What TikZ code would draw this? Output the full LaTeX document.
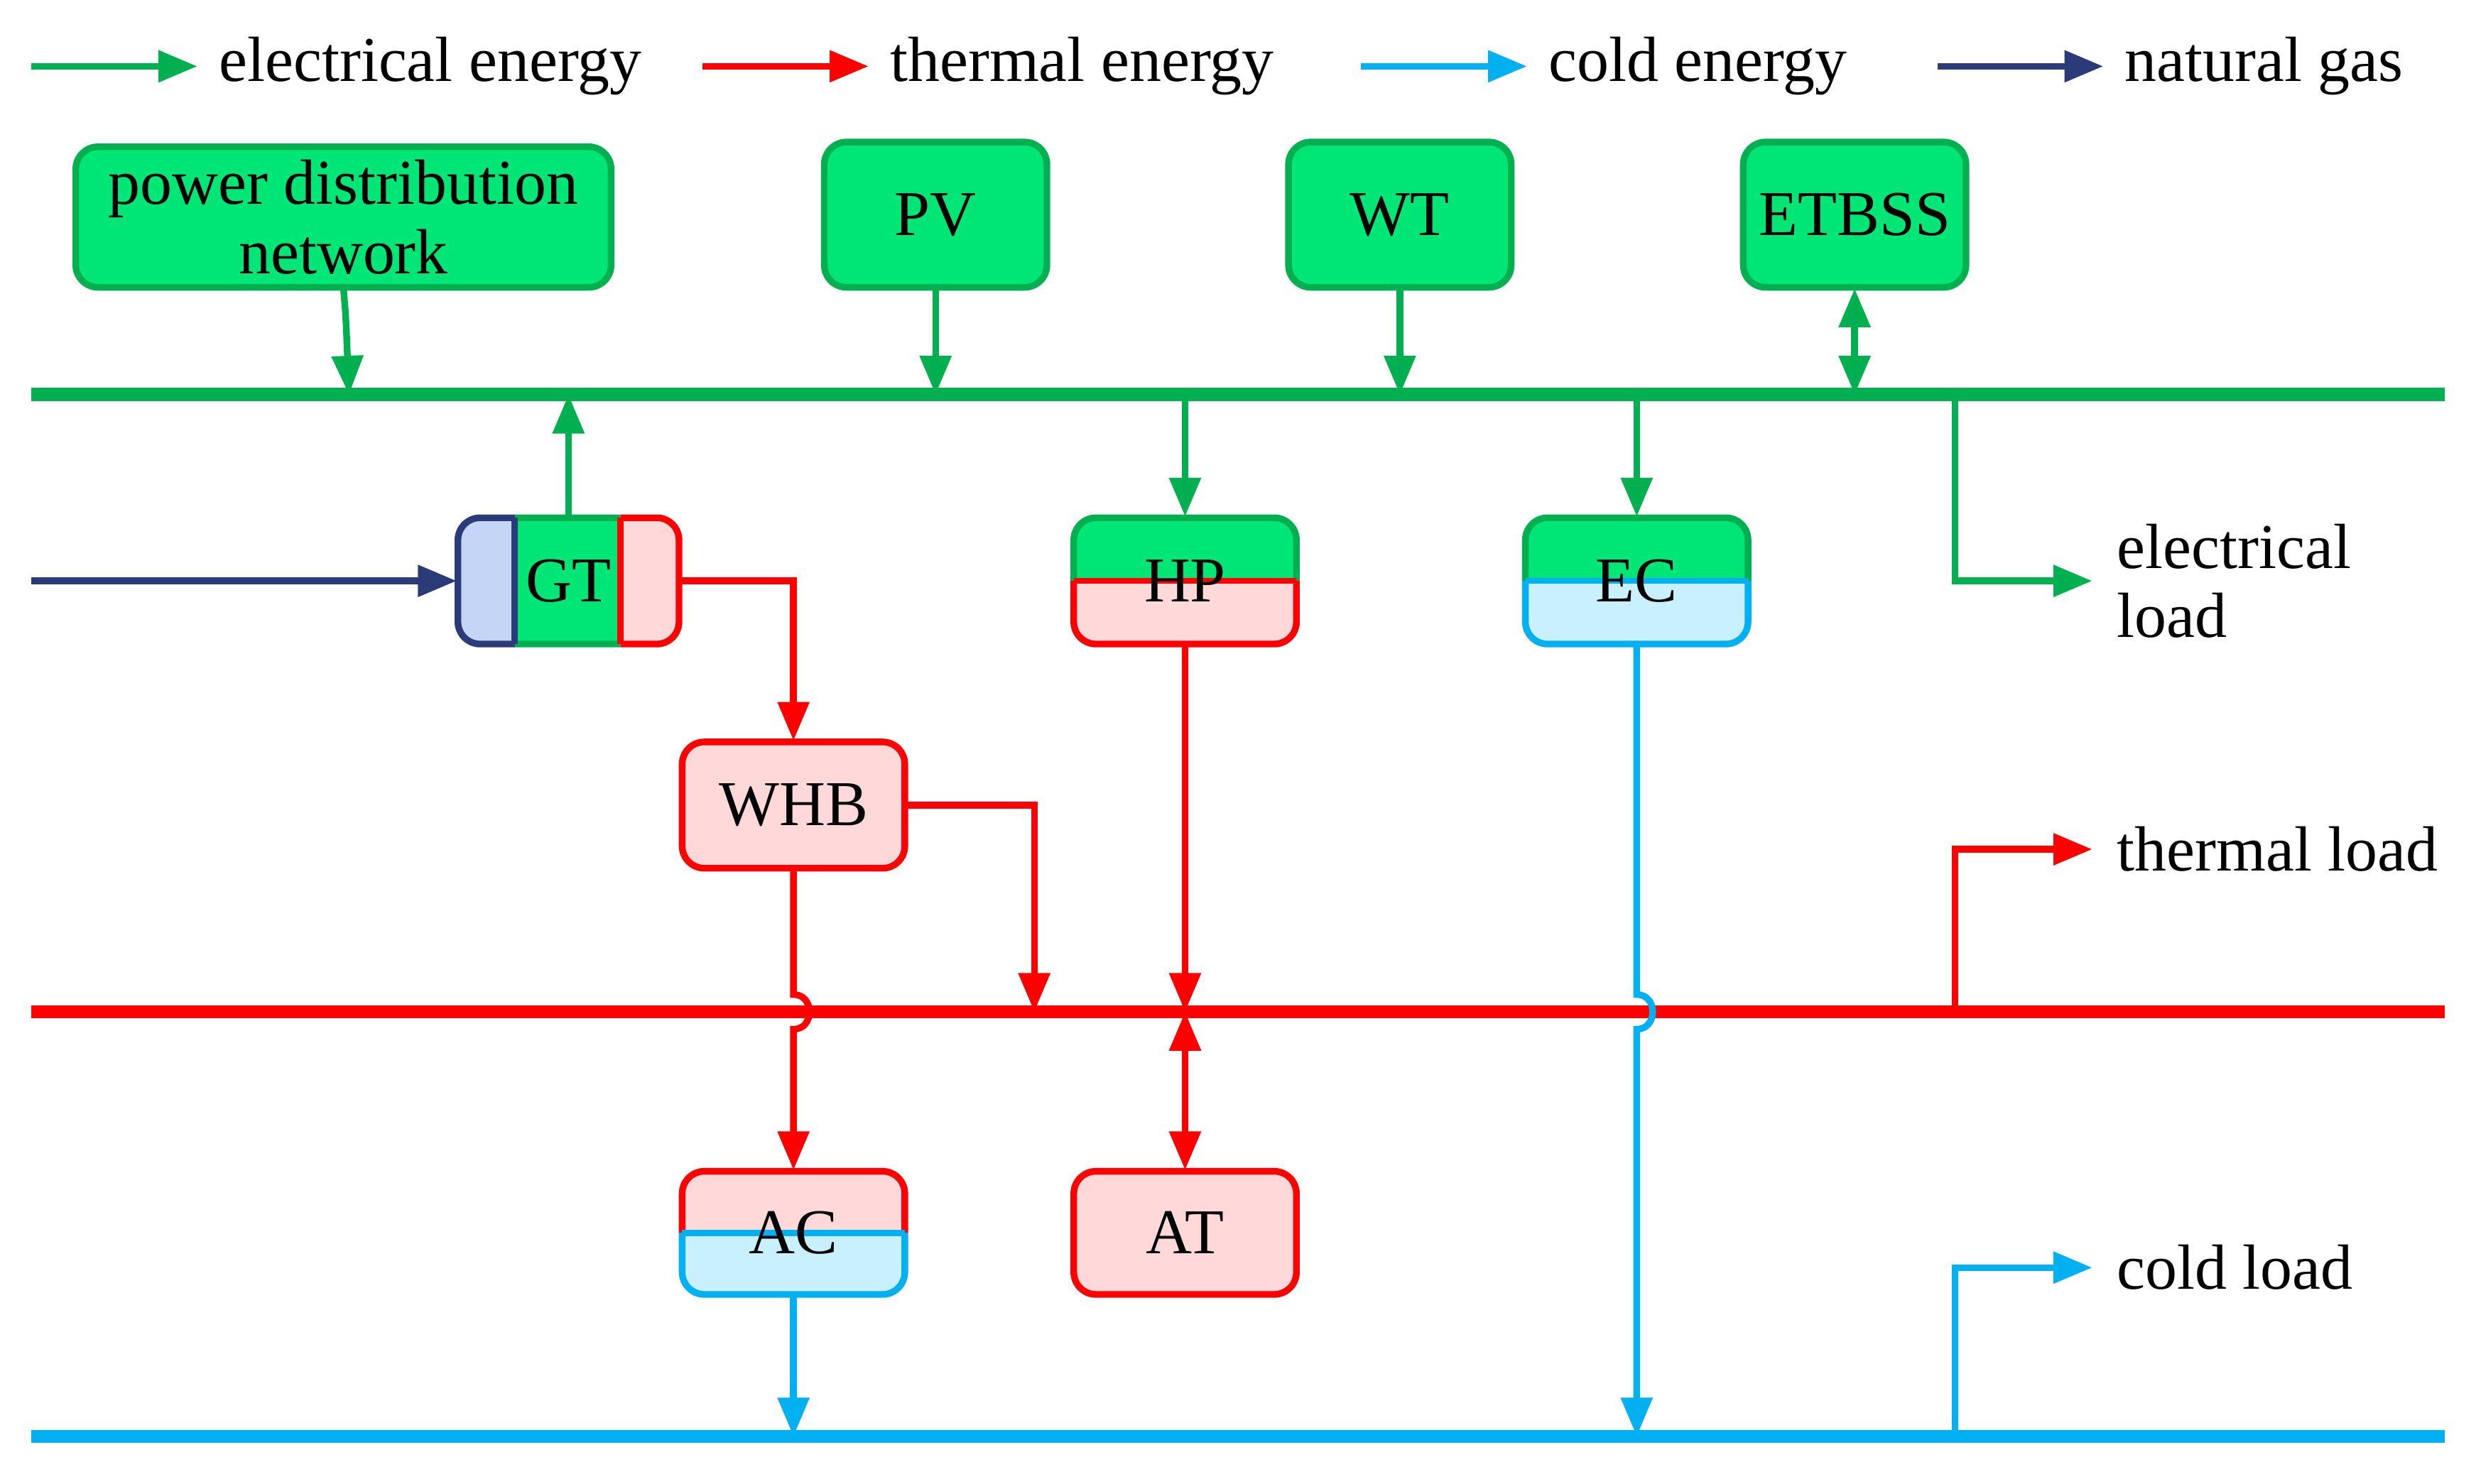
\documentclass[tikz,border=0pt]{standalone}
\usepackage{fontspec}
\setmainfont{Liberation Serif}
\usetikzlibrary{arrows.meta}
\definecolor{eg}{HTML}{00B050}
\definecolor{egf}{HTML}{00E676}
\definecolor{th}{HTML}{FF0000}
\definecolor{thf}{HTML}{FFD9D9}
\definecolor{co}{HTML}{00B0F0}
\definecolor{cof}{HTML}{C8F0FF}
\definecolor{ng}{HTML}{2A3B78}
\definecolor{ngf}{HTML}{C5D5F5}
\newcommand{\hsplit}[9]{% name x1 y1 x2 y2 topfill topdraw botfill botdraw
  \pgfmathsetmacro{\ym}{(#3+#5)/2}
  \begin{scope}\clip (#2-5,#3-5) rectangle (#4+5,\ym);
    \draw[box,fill=#6,draw=#7] (#2,#3) rectangle (#4,#5);\end{scope}
  \begin{scope}\clip (#2-5,\ym) rectangle (#4+5,#5+5);
    \draw[box,fill=#8,draw=#9] (#2,#3) rectangle (#4,#5);\end{scope}
  \draw[#9,line width=1.1pt] (#2,\ym) -- (#4,\ym);
}
\tikzset{
  box/.style={rounded corners=4pt, line width=1.2pt},
  lab/.style={font=\fontsize{11.5}{12.5}\selectfont, inner sep=0pt, align=center},
  tip/.style={-{Triangle[length=7pt,width=5.5pt]}},
  dtip/.style={{Triangle[length=7pt,width=5.5pt]}-{Triangle[length=7pt,width=5.5pt]}},
  ln/.style={line width=1.2pt},
  bus/.style={line width=2.4pt},
  txt/.style={font=\fontsize{11.5}{12.5}\selectfont, inner sep=0pt, anchor=west, align=left},
}
\begin{document}
\begin{tikzpicture}[x=0.01cm,y=-0.01cm]
\useasboundingbox (0,0) rectangle (1568,940);
% legend
\coordinate (l1a) at (20,42); \coordinate (l1b) at (125,42);
\coordinate (l2a) at (445,42); \coordinate (l2b) at (550,42);
\coordinate (l3a) at (862,42); \coordinate (l3b) at (967,42);
\coordinate (l4a) at (1227,42); \coordinate (l4b) at (1332,42);
\draw[ln,tip,eg] (l1a) -- (l1b); \node[txt] (t1) at (138,42) {electrical energy};
\draw[ln,tip,th] (l2a) -- (l2b); \node[txt] (t2) at (563,42) {thermal energy};
\draw[ln,tip,co] (l3a) -- (l3b); \node[txt] (t3) at (980,42) {cold energy};
\draw[ln,tip,ng] (l4a) -- (l4b); \node[txt] (t4) at (1345,42) {natural gas};
% buses
\coordinate (eL) at (20,250); \coordinate (eR) at (1548,250);
\coordinate (hL) at (20,641); \coordinate (hR) at (1548,641);
\coordinate (cL) at (20,910); \coordinate (cR) at (1548,910);
\draw[bus,eg] (eL) -- (eR);
\draw[bus,th] (hL) -- (hR);
\draw[bus,co] (cL) -- (cR);
% top green boxes
\draw[box,fill=egf,draw=eg] (48,93) rectangle (387,182);
\node[lab,minimum width=3.39cm,minimum height=0.89cm] (pdn) at (217.5,137.5) {power distribution\\network};
\draw[box,fill=egf,draw=eg] (522,90) rectangle (663,182);
\node[lab,minimum width=1.41cm,minimum height=0.92cm] (pv) at (592.5,136) {PV};
\draw[box,fill=egf,draw=eg] (816,90) rectangle (957,182);
\node[lab,minimum width=1.41cm,minimum height=0.92cm] (wt) at (886.5,136) {WT};
\draw[box,fill=egf,draw=eg] (1104,90) rectangle (1245,182);
\node[lab,minimum width=1.41cm,minimum height=0.92cm] (et) at (1174.5,136) {ETBSS};
\draw[ln,tip,eg] (pdn.south) .. controls (219,200) .. (221,250);
\draw[ln,tip,eg] (pv.south) -- (pv.south |- eL);
\draw[ln,tip,eg] (wt.south) -- (wt.south |- eL);
\draw[ln,dtip,eg] (et.south) -- (et.south |- eL);
% GT
\begin{scope}\clip (285,320) rectangle (326,415);
  \draw[box,fill=ngf,draw=ng] (290,328) rectangle (430,408);\end{scope}
\begin{scope}\clip (326,320) rectangle (393,415);
  \draw[box,fill=egf,draw=eg] (290,328) rectangle (430,408);\end{scope}
\begin{scope}\clip (393,320) rectangle (435,415);
  \draw[box,fill=thf,draw=th] (290,328) rectangle (430,408);\end{scope}
\draw[ng,line width=1.2pt] (326,328) -- (326,408);
\draw[th,line width=1.2pt] (393,328) -- (393,408);
\node[lab,minimum width=1.4cm,minimum height=0.8cm] (gt) at (360,368) {GT};
\coordinate (ngs) at (20,368);
\draw[ln,tip,ng] (ngs) -- (gt.west);
\draw[ln,tip,eg] (gt.north) -- (gt.north |- eL);
% HP, EC, AC
\hsplit{hp}{680}{328}{821}{408}{egf}{eg}{thf}{th}
\node[lab,minimum width=1.41cm,minimum height=0.8cm] (hp) at (750.5,368) {HP};
\hsplit{ec}{966}{328}{1107}{408}{egf}{eg}{cof}{co}
\node[lab,minimum width=1.41cm,minimum height=0.8cm] (ec) at (1036.5,368) {EC};
\hsplit{ac}{432}{742}{573}{820}{thf}{th}{cof}{co}
\node[lab,minimum width=1.41cm,minimum height=0.78cm] (ac) at (502.5,781) {AC};
% WHB, AT
\draw[box,fill=thf,draw=th] (432,470) rectangle (573,550);
\node[lab,minimum width=1.41cm,minimum height=0.8cm] (whb) at (502.5,510) {WHB};
\draw[box,fill=thf,draw=th] (680,742) rectangle (821,820);
\node[lab,minimum width=1.41cm,minimum height=0.78cm] (at) at (750.5,781) {AT};
% connectors
\draw[ln,tip,eg] (hp.north |- eL) -- (hp.north);
\draw[ln,tip,eg] (ec.north |- eL) -- (ec.north);
\draw[ln,tip,th] (gt.east) -| (whb.north);
\draw[ln,tip,th] (whb.east) -| (655,641);
\draw[ln,tip,th] (hp.south) -- (hp.south |- hL);
\draw[ln,dtip,th] (at.north |- hL) -- (at.north);
\draw[ln,tip,th] (whb.south) -- (502.5,630) .. controls (516,630) and (516,652) .. (502.5,652) -- (ac.north);
\draw[ln,tip,co] (ec.south) -- (1036.5,630) .. controls (1050,630) and (1050,652) .. (1036.5,652) -- (ec.south |- cL);
\draw[ln,tip,co] (ac.south) -- (ac.south |- cL);
% loads
\node[txt] (el) at (1340,368) {electrical\\load};
\node[txt] (tl) at (1340,538) {thermal load};
\node[txt] (cl) at (1340,803) {cold load};
\draw[ln,tip,eg] (1238,250) |- (1325,368);
\draw[ln,tip,th] (1238,641) |- (1325,538);
\draw[ln,tip,co] (1238,910) |- (1325,803);
\end{tikzpicture}
\end{document}
